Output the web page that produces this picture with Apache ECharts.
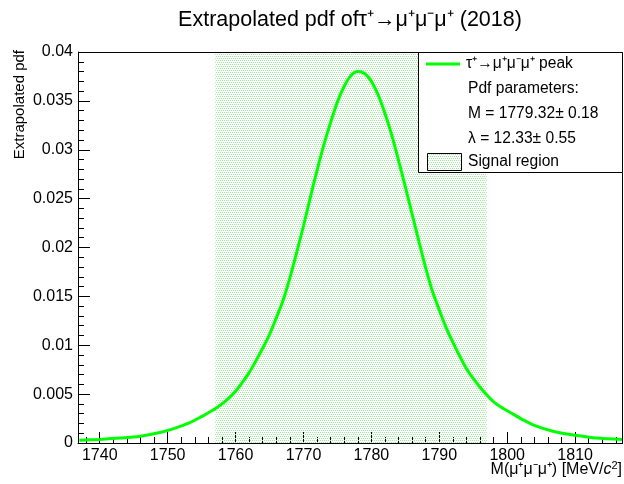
<!DOCTYPE html>
<html><head><meta charset="utf-8">
<script src="https://cdn.jsdelivr.net/npm/echarts@6/dist/echarts.min.js"></script>
<style>html,body{margin:0;padding:0;background:#fff}#c{width:624px;height:484px}</style>
</head><body><div id="c"></div>
<script>
// ---- data ----
const massValues = [1737,1740,1743,1746,1749,1751,1753,1755,1756,1757,1758,1759,1760,1761,1762,1763,1764,1765,1766,1767,1768,1769,1770,1771,1772,1773,1774,1775,1776,1777,1778,1779,1780,1781,1782,1783,1784,1785,1786,1787,1788,1789,1790,1791,1792,1793,1794,1795,1796,1797,1798,1799,1800,1801,1802,1804,1807,1810,1813,1817];
const pdfValues  = [0.00028,0.00037,0.0005,0.0007,0.0011,0.0015,0.0020,0.0027,0.0031,0.0035,0.0040,0.0046,0.0053,0.0062,0.0072,0.0084,0.0097,0.0111,0.0128,0.0146,0.0169,0.0195,0.0222,0.0251,0.0279,0.0305,0.0328,0.0349,0.0365,0.0376,0.0380,0.0378,0.0370,0.0356,0.0337,0.0315,0.0289,0.0262,0.0234,0.0206,0.0179,0.0155,0.0136,0.0118,0.0103,0.0089,0.0076,0.0066,0.0057,0.0049,0.0042,0.0037,0.0033,0.0029,0.0025,0.0018,0.00115,0.0008,0.0005,0.00035];
const xMajorTicks = [1740,1750,1760,1770,1780,1790,1800,1810];
const signalRegion = [1757, 1797];
const xRange = [1736.8, 1816.9];
const yRange = [0, 0.04];
const yStep = 0.005;
const titleText = 'Extrapolated pdf of\u03C4\u207A\u2192\u03BC\u207A\u03BC\u207B\u03BC\u207A (2018)';
const yAxisTitle = 'Extrapolated pdf';
const legendLabels = ['\u03C4\u207A\u2192\u03BC\u207A\u03BC\u207B\u03BC\u207A peak', 'Pdf parameters:', 'M = 1779.32\u00B1 0.18', '\u03BB = 12.33\u00B1 0.55', 'Signal region'];

// ---- pattern for signal region ----
const pc = document.createElement('canvas'); pc.width = 4; pc.height = 4;
const g = pc.getContext('2d');
g.fillStyle = 'rgb(160,234,160)';
[[0,0],[2,0],[1,2],[3,2]].forEach(([a,b]) => g.fillRect(a,b,1,1));
const pattern = {image: pc, repeat: 'repeat'};

const FONT = '"Liberation Sans", Arial, sans-serif';
const chart = echarts.init(document.getElementById('c'), null, {renderer: 'canvas'});
const txt = (t, x, y) => ({type: 'text', z: 102, style: {text: t, x: x, y: y, fill: '#000', font: '15.6px ' + FONT, verticalAlign: 'middle'}});

chart.setOption({
  animation: false,
  grid: {left: 78, top: 52, right: 2, bottom: 41},
  xAxis: {
    type: 'value', min: xRange[0], max: xRange[1], splitNumber: 8,
    axisLine: {show: true, lineStyle: {color: '#000', width: 1}},
    axisTick: {show: true, inside: true, length: 11, customValues: xMajorTicks, lineStyle: {color: '#000'}},
    minorTick: {show: true, splitNumber: 5, length: 6, lineStyle: {color: '#000'}},
    axisLabel: {show: true, customValues: xMajorTicks, margin: 5, color: '#000', fontSize: 16, fontFamily: FONT, formatter: v => String(v)},
    splitLine: {show: false}
  },
  yAxis: {
    type: 'value', min: yRange[0], max: yRange[1], interval: yStep,
    axisLine: {show: true, lineStyle: {color: '#000', width: 1}},
    axisTick: {show: true, inside: true, length: 12, lineStyle: {color: '#000'}},
    minorTick: {show: true, splitNumber: 5, length: 6, lineStyle: {color: '#000'}},
    axisLabel: {margin: 5, color: '#000', fontSize: 16, fontFamily: FONT,
      formatter: v => v === 0 ? '0' : String(+v.toFixed(3))},
    splitLine: {show: false}
  },
  series: [{
    type: 'line',
    data: massValues.map((m, i) => [m, pdfValues[i]]),
    showSymbol: false, smooth: 0.3,
    lineStyle: {color: '#00ff00', width: 3},
    markArea: {silent: true, itemStyle: {color: pattern}, data: [[{xAxis: signalRegion[0]}, {xAxis: signalRegion[1]}]]}
  }],
  graphic: [
    {type: 'line', z: 50, shape: {x1: 78, y1: 52.5, x2: 623, y2: 52.5}, style: {stroke: '#000', lineWidth: 1}},
    {type: 'line', z: 50, shape: {x1: 622.5, y1: 52, x2: 622.5, y2: 444}, style: {stroke: '#000', lineWidth: 1}},
    {type: 'text', style: {text: titleText, x: 350, y: 20, align: 'center', verticalAlign: 'middle', fill: '#000', font: '21.5px ' + FONT}},
    {type: 'text', rotation: Math.PI / 2, x: 20, y: 50, style: {text: yAxisTitle, x: 0, y: 0, align: 'right', verticalAlign: 'middle', fill: '#000', font: '15px ' + FONT}},
    {type: 'text', style: {text: '{a|M(\u03BC\u207A\u03BC\u207B\u03BC\u207A) [MeV/}{i|c}{s|2}{a|]}', x: 622, y: 470, align: 'right', verticalAlign: 'middle',
      rich: {a: {fontSize: 16, fontFamily: FONT, fill: '#000'}, i: {fontSize: 16, fontFamily: FONT, fontStyle: 'italic', fill: '#000'}, s: {fontSize: 11, fontFamily: FONT, fill: '#000', padding: [0, 0, 9, 0]}}}},
    {type: 'rect', z: 100, shape: {x: 418.5, y: 52.5, width: 204, height: 120}, style: {fill: '#fff', stroke: '#000', lineWidth: 1}},
    {type: 'line', z: 101, shape: {x1: 426, y1: 64, x2: 460, y2: 64}, style: {stroke: '#00ff00', lineWidth: 3}},
    txt(legendLabels[0], 466, 64),
    txt(legendLabels[1], 468, 89),
    txt(legendLabels[2], 468, 114),
    txt(legendLabels[3], 468, 139),
    {type: 'rect', z: 101, shape: {x: 427.5, y: 153.5, width: 34, height: 17}, style: {fill: pattern, stroke: '#000', lineWidth: 1}},
    txt(legendLabels[4], 468, 162)
  ]
});
</script>
</body></html>
